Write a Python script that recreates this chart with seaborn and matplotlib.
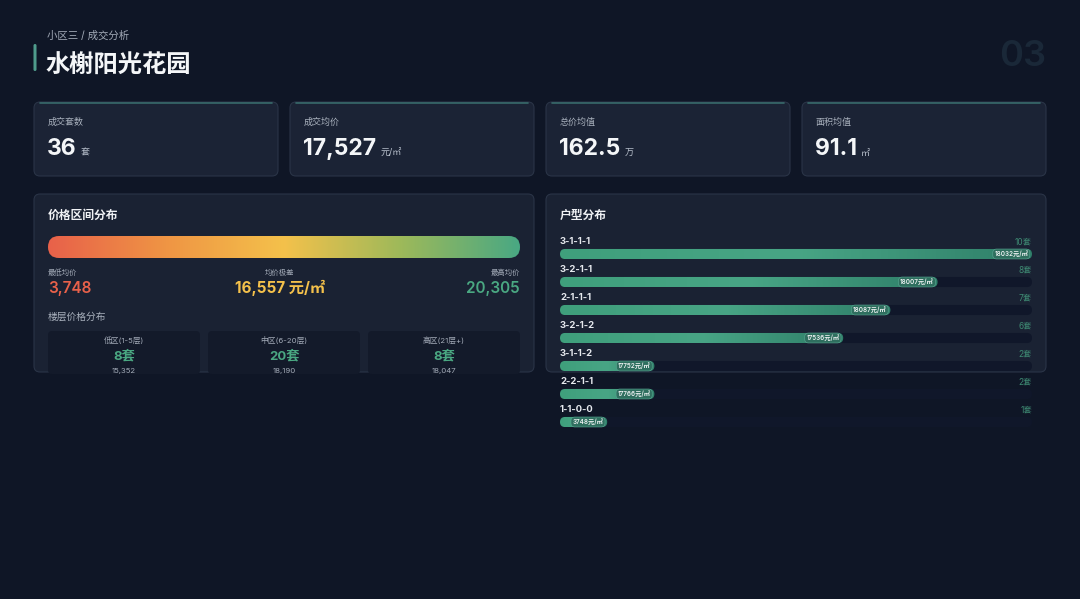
import numpy as np
import pandas as pd
import matplotlib
matplotlib.use("Agg")
import matplotlib.pyplot as plt
import seaborn as sns
from matplotlib.patches import FancyBboxPatch
from matplotlib.colors import LinearSegmentedColormap

# ---- data ----
kpi_labels = ["成交套数", "成交均价", "总价均值", "面积均值"]
kpi_values = ["36", "17,527", "162.5", "91.1"]
kpi_units = ["套", "元/㎡", "万", "㎡"]

price_min = 3748
price_max = 20305
price_range = 16557

floor_names = ["低区(1-5层)", "中区(6-20层)", "高区(21层+)"]
floor_counts = [8, 20, 8]
floor_avg = [15352, 18190, 18047]

room_types = ["3-1-1-1", "3-2-1-1", "2-1-1-1", "3-2-1-2", "3-1-1-2", "2-2-1-1", "1-1-0-0"]
room_counts = [10, 8, 7, 6, 2, 2, 1]
room_prices = [18032, 18007, 18087, 17536, 17752, 17766, 3748]

# ---- style ----
BG = "#0f1626"
CARD = "#1b2335"
PANEL = "#1a2233"
EDGE = "#2a3447"
TEAL = "#4aa882"
sns.set_theme(style="white")
plt.rcParams["font.family"] = ["Inter", "Noto Sans CJK SC", "DejaVu Sans"]

fig = plt.figure(figsize=(10.8, 5.99), dpi=100, facecolor=BG)
bg = fig.add_axes([0, 0, 1, 1])
bg.set_xlim(0, 1080)
bg.set_ylim(599, 0)
bg.axis("off")
bg.set_facecolor(BG)


def card(x, y, w, h, fc, ec=EDGE, r=6, lw=0.8, z=1):
    p = FancyBboxPatch((x, y), w, h, boxstyle=f"round,pad=0,rounding_size={r}",
                       fc=fc, ec=ec, lw=lw, zorder=z)
    bg.add_patch(p)
    return p


# header
bg.text(47, 36, "小区三 / 成交分析", fontsize=7.5, color="#a3abb8", va="center")
bg.add_patch(FancyBboxPatch((33.5, 44), 3, 27, boxstyle="round,pad=0,rounding_size=1.5",
                            fc="#4f9c8c", ec="none"))
bg.text(46, 66, "水榭阳光花园", fontsize=17.5, color="#f4f6f8", weight="bold", va="center")
bg.text(1046, 57, "03", fontsize=26, color="#1a2838", weight="semibold", va="center",
        ha="right")

# KPI cards
for i, (lab, val, unit) in enumerate(zip(kpi_labels, kpi_values, kpi_units)):
    x0 = 34 + i * 256
    card(x0, 102, 244, 74, CARD)
    bg.plot([x0 + 6, x0 + 238], [102.6, 102.6], color="#3f7b78", lw=1.2, alpha=0.8, zorder=2)
    bg.text(x0 + 14, 122, lab, fontsize=6.5, color="#a9b1bd", va="center")
    t = bg.text(x0 + 13, 149, val, fontsize=16.5, color="#f4f6f8", weight="bold", va="center")
    fig.canvas.draw()
    bb = t.get_window_extent().transformed(bg.transData.inverted())
    bg.text(bb.x1 + 4, 153, unit, fontsize=6.5, color="#b8c0cc", va="center")

# price distribution panel
card(34, 194, 500, 178, PANEL)
bg.text(48, 216, "价格区间分布", fontsize=8.5, color="#f0f2f5", weight="bold", va="center")
grad_cmap = LinearSegmentedColormap.from_list(
    "price", ["#e8614a", "#ef9544", "#f4c14b", "#9db95a", "#49a883"])
gbar = FancyBboxPatch((48, 236), 472, 22, boxstyle="round,pad=0,rounding_size=11",
                      fc="none", ec="none", zorder=3)
bg.add_patch(gbar)
im = bg.imshow(np.linspace(0, 1, 256)[None, :], cmap=grad_cmap, aspect="auto",
               extent=(48, 520, 258, 236), zorder=3)
im.set_clip_path(gbar)
bg.set_xlim(0, 1080)
bg.set_ylim(599, 0)

bg.text(48, 272, "最低均价", fontsize=5.3, color="#a3abb8", va="center")
bg.text(48, 288, f"{price_min:,}", fontsize=11, color="#e8614a", weight="semibold",
        va="center")
bg.text(280, 272, "均价极差", fontsize=5.3, color="#a3abb8", va="center", ha="center")
bg.text(280, 288, f"{price_range:,} 元/㎡", fontsize=11, color="#f4c14b", weight="bold",
        va="center", ha="center")
bg.text(520, 272, "最高均价", fontsize=5.3, color="#a3abb8", va="center", ha="right")
bg.text(520, 288, f"{price_max:,}", fontsize=11, color=TEAL, weight="semibold", va="center",
        ha="right")

bg.text(48, 317, "楼层价格分布", fontsize=7, color="#a9b1bd", va="center")
for i, (nm, c, a) in enumerate(zip(floor_names, floor_counts, floor_avg)):
    x0 = 48 + i * 160
    card(x0, 331, 152, 43, "#131a2a", ec="none", r=4, z=2)
    bg.text(x0 + 76, 340, nm, fontsize=5.6, color="#a3abb8", va="center", ha="center", zorder=3)
    bg.text(x0 + 76, 356, f"{c}套", fontsize=9.5, color=TEAL, weight="bold", va="center",
            ha="center", zorder=3)
    bg.text(x0 + 76, 371, f"{a:,}", fontsize=5.6, color="#a3abb8", va="center", ha="center",
            zorder=3)

# house type panel
card(546, 194, 500, 178, PANEL)
bg.text(560, 216, "户型分布", fontsize=8.5, color="#f0f2f5", weight="bold", va="center")

df = pd.DataFrame({"type": room_types, "count": room_counts, "price": room_prices})
ax = fig.add_axes([560 / 1080, 1 - 436 / 599, 472 / 1080, 196 / 599])
ax.patch.set_alpha(0)
full = max(room_counts)
sns.barplot(data=df.assign(track=full), x="track", y="type", orient="h", color="#10172a",
            saturation=1, width=0.36, ax=ax)
sns.barplot(data=df, x="count", y="type", orient="h", color="#3d9a79", saturation=1,
            width=0.36, ax=ax)
ax.set_xlim(0, full)
ax.set_ylim(len(room_types) - 0.5, -0.5)
ax.axis("off")

# round the bars, keeping seaborn's geometry
px_x = 472 / full
px_y = 196 / len(room_types)
aspect = px_x / px_y
bar_cmap = LinearSegmentedColormap.from_list("bar", ["#3f9f7c", "#48a585", "#2f7f69"])
n = len(room_types)
for k, p in enumerate(list(ax.patches)):
    x, y = p.get_x(), p.get_y()
    w, h = p.get_width(), p.get_height()
    fc = p.get_facecolor()
    p.remove()
    rp = FancyBboxPatch((x, y), w, h,
                        boxstyle=f"round,pad=0,rounding_size={5 / px_x}",
                        mutation_aspect=aspect, fc=fc, ec="none", zorder=2 + k // n)
    ax.add_patch(rp)
    if k >= n:
        rp.set_facecolor("none")
        gi = ax.imshow(np.linspace(0, 1, 128)[None, :], cmap=bar_cmap, aspect="auto",
                       extent=(x, x + w, y + h, y), zorder=3)
        gi.set_clip_path(rp)
ax.set_xlim(0, full)
ax.set_ylim(len(room_types) - 0.5, -0.5)

for i, row in df.iterrows():
    ax.text(0, i - 0.43, row["type"], fontsize=6.8, color="#e6e9ee", weight="bold",
            va="center", ha="left")
    ax.text(full, i - 0.43, f"{row['count']}套", fontsize=6, color="#3f8c74", va="center",
            ha="right")
    ax.text(row["count"] - 0.08, i, f"{row['price']}元/㎡", fontsize=4.5, color="#eef2f3",
            weight="semibold", va="center", ha="right", zorder=5,
            bbox=dict(boxstyle="round,pad=0.25,rounding_size=0.6", fc="#2f6f5f",
                      ec="#5aa894", lw=0.4))

fig.savefig("out.png", dpi=100, facecolor=BG)
